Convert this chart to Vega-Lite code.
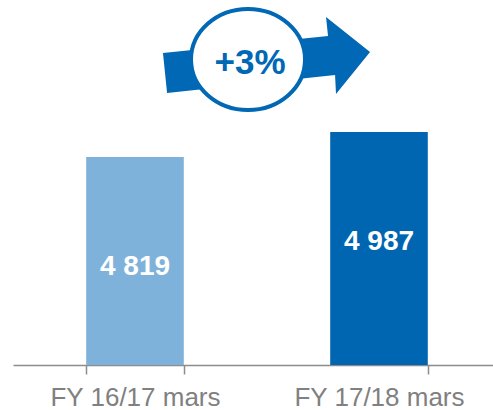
{
  "$schema": "https://vega.github.io/schema/vega-lite/v6.json",
  "autosize": {"type": "none"},
  "padding": {"left": 13, "top": 0, "right": 0, "bottom": 45},
  "width": 480,
  "height": 365,
  "config": {"view": {"stroke": null}, "font": "Liberation Sans", "locale": {"number": {"decimal": ",", "thousands": " ", "grouping": [3], "currency": ["", " €"]}}},
  "layer": [
    {
      "data": {"values": [
        {"period": "FY 16/17 mars", "value": 4819},
        {"period": "FY 17/18 mars", "value": 4987}
      ]},
      "layer": [
        {
          "mark": {"type": "bar"},
          "encoding": {
            "x": {"field": "period", "type": "nominal", "sort": null,
              "scale": {"range": [0, 488], "paddingInner": 0.6, "paddingOuter": 0.3},
              "axis": {"title": null, "labelAngle": 0, "tickBand": "extent", "domainColor": "#8c8c8c", "domainWidth": 1.5, "tickColor": "#8c8c8c", "tickWidth": 1.5, "tickSize": 9, "labelFontSize": 26, "labelColor": "#808080", "labelFont": "Liberation Sans", "labelPadding": 10, "grid": false}},
            "y": {"field": "value", "type": "quantitative", "scale": {"domain": [3421, 5874], "zero": false, "nice": false, "clamp": true}, "axis": null},
            "color": {"field": "period", "type": "nominal", "scale": {"domain": ["FY 16/17 mars", "FY 17/18 mars"], "range": ["#7fb2da", "#0066b2"]}, "legend": null}
          }
        },
        {
          "mark": {"type": "text", "color": "white", "fontSize": 28, "fontWeight": "bold", "font": "Liberation Sans", "baseline": "middle", "align": "center", "dy": 110},
          "encoding": {
            "x": {"field": "period", "type": "nominal", "sort": null},
            "y": {"field": "value", "type": "quantitative"},
            "text": {"field": "value", "type": "quantitative", "format": ",d"}
          }
        }
      ]
    },
    {
      "data": {"values": [{"label": "+3%"}]},
      "layer": [
        {
          "mark": {"type": "point", "shape": "M-0.81,-0.062L0.762,-0.224L0.743,-0.405L1.162,-0.071L0.838,0.329L0.829,0.148L-0.771,0.319Z", "size": 44100, "filled": true, "color": "#0068b4", "opacity": 1, "strokeWidth": 0},
          "encoding": {
            "x": {"datum": "FY 16/17 mars", "type": "nominal", "bandPosition": 1.658},
            "y": {"datum": 5474, "type": "quantitative"}
          }
        },
        {
          "mark": {"type": "point", "shape": "M-1,0A1,0.886,0,1,1,1,0A1,0.886,0,1,1,-1,0Z", "size": 12996, "filled": false, "fill": "white", "fillOpacity": 1, "stroke": "#0068b4", "strokeWidth": 4, "opacity": 1},
          "encoding": {
            "x": {"datum": "FY 16/17 mars", "type": "nominal", "bandPosition": 1.658},
            "y": {"datum": 5474, "type": "quantitative"}
          }
        },
        {
          "mark": {"type": "text", "color": "#0068b4", "fontSize": 35, "fontWeight": "bold", "font": "Liberation Sans", "baseline": "middle", "align": "center", "dx": 2, "dy": 3},
          "encoding": {
            "x": {"datum": "FY 16/17 mars", "type": "nominal", "bandPosition": 1.658},
            "y": {"datum": 5474, "type": "quantitative"},
            "text": {"field": "label", "type": "nominal"}
          }
        }
      ]
    }
  ]
}
